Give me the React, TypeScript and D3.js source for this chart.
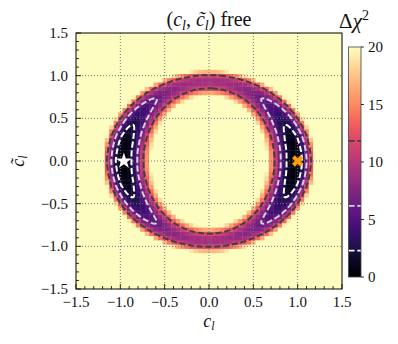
import React, { useMemo } from "react";
import * as d3 from "d3";

// ring profile of the Δχ² surface (angle from the c_l axis, degrees)
const ringAngles = [0, 15, 30, 45, 60, 75, 90];
const ringMin = [0, 0.7, 2.8, 5.3, 7.5, 8.6, 9.0];
const ringInner = [0.655, 0.661, 0.679, 0.705, 0.736, 0.76, 0.77]; // Δχ² = 20 inner edge
const ringOuter = [1.2, 1.19, 1.163, 1.129, 1.098, 1.077, 1.07]; // Δχ² = 20 outer edge

const contourLevels = [2.3, 6.18, 11.83];
const contourColors = ["#ffffff", "#d3d3d3", "#404040"];
const bestFit: [number, number] = [-0.96, 0];
const smPoint: [number, number] = [1, 0];

const axisTicks = [-1.5, -1, -0.5, 0, 0.5, 1, 1.5];
const gridTicks = [-1, -0.5, 0, 0.5, 1];
const cbarTicks = [0, 5, 10, 15, 20];
const vmax = 20;

const W = 398;
const H = 344;
const M = { left: 76, right: 342, top: 33, bottom: 289 };
const CB = { x: 348.5, w: 12.5, top: 47, bottom: 277 };
const font = "'Liberation Serif', 'DejaVu Serif', serif";

const minAt = d3.scaleLinear().domain(ringAngles).range(ringMin).clamp(true);
const innerAt = d3.scaleLinear().domain(ringAngles).range(ringInner).clamp(true);
const outerAt = d3.scaleLinear().domain(ringAngles).range(ringOuter).clamp(true);

function chi2(c: number, ct: number) {
  const r2 = c * c + ct * ct;
  const th = (Math.atan2(Math.abs(ct), Math.abs(c)) * 180) / Math.PI;
  const m = minAt(th);
  const qi = innerAt(th) ** 2;
  const qo = outerAt(th) ** 2;
  const q0 = (qi + qo) / 2;
  const half = (qo - qi) / 2;
  return m + (vmax - m) * ((r2 - q0) / half) ** 2;
}

export default function App() {
  const x = d3.scaleLinear().domain([-1.5, 1.5]).range([M.left, M.right]);
  const y = d3.scaleLinear().domain([-1.5, 1.5]).range([M.bottom, M.top]);
  const cy = d3.scaleLinear().domain([0, vmax]).range([CB.bottom, CB.top]);
  const color = (v: number) => d3.interpolateMagma(Math.min(v, vmax) / vmax);
  const fmt = d3.format(".1f");

  const cells = useMemo(() => {
    const out: { c: number; t: number; v: number }[] = [];
    const step = 0.05;
    for (let i = -30; i <= 30; i++) {
      for (let j = -30; j <= 30; j++) {
        const c = i * step;
        const t = j * step;
        out.push({ c, t, v: chi2(c, t) });
      }
    }
    return out;
  }, []);

  const contourPaths = useMemo(() => {
    const n = 241;
    const step = 3 / (n - 1);
    const vals: number[] = new Array(n * n);
    for (let j = 0; j < n; j++) {
      for (let i = 0; i < n; i++) {
        vals[j * n + i] = -chi2(-1.5 + i * step, -1.5 + j * step);
      }
    }
    const gen = d3.contours().size([n, n]).thresholds(contourLevels.map((l) => -l));
    const proj = d3.geoTransform({
      point(px: number, py: number) {
        this.stream.point(x(-1.5 + (px - 0.5) * step), y(-1.5 + (py - 0.5) * step));
      },
    });
    const path = d3.geoPath(proj);
    return contourLevels.map((l) => path(gen.contour(vals, -l)) || "");
  }, []);

  const cw = x(0.05) - x(0);
  const ch = y(0) - y(0.05);
  const star = d3.symbol(d3.symbolStar, 80)() || "";
  const cross = d3.symbol(d3.symbolCross, 80)() || "";

  const gradStops = d3.range(0, 1.0001, 0.05);

  return (
    <svg width={W} height={H} style={{ position: "absolute", left: 0, top: 0 }}>
      <defs>
        <clipPath id="plot">
          <rect x={M.left} y={M.top} width={M.right - M.left} height={M.bottom - M.top} />
        </clipPath>
        <linearGradient id="cbar" x1="0" y1="1" x2="0" y2="0">
          {gradStops.map((s) => (
            <stop key={s} offset={s} stopColor={d3.interpolateMagma(s)} />
          ))}
        </linearGradient>
      </defs>
      <rect width={W} height={H} fill="#fff" />

      <g clipPath="url(#plot)">
        {cells.map((d, k) => (
          <rect
            key={k}
            x={x(d.c) - cw / 2}
            y={y(d.t) - ch / 2}
            width={cw + 0.4}
            height={ch + 0.4}
            fill={color(d.v)}
          />
        ))}
        {gridTicks.map((t) => (
          <g key={t} stroke="#777" strokeWidth={1} strokeDasharray="1,2">
            <line x1={x(t)} x2={x(t)} y1={M.top} y2={M.bottom} />
            <line x1={M.left} x2={M.right} y1={y(t)} y2={y(t)} />
          </g>
        ))}
        {contourPaths.map((p, i) => (
          <path
            key={i}
            d={p}
            fill="none"
            stroke={contourColors[i]}
            strokeWidth={2}
            strokeDasharray="6,2.8"
          />
        ))}
        <path
          d={star}
          transform={`translate(${x(bestFit[0])},${y(bestFit[1])})`}
          fill="#fff"
        />
        <path
          d={cross}
          transform={`translate(${x(smPoint[0])},${y(smPoint[1])}) rotate(45)`}
          fill="#ff9f0a"
        />
      </g>

      {/* ticks */}
      {d3.range(-15, 16).map((k) => {
        const v = k / 10;
        const major = k % 5 === 0;
        const len = major ? 5 : 3;
        return (
          <g key={k} stroke="#000" strokeWidth={0.8}>
            <line x1={x(v)} x2={x(v)} y1={M.bottom} y2={M.bottom - len} />
            <line x1={M.left} x2={M.left + len} y1={y(v)} y2={y(v)} />
          </g>
        );
      })}
      <rect
        x={M.left}
        y={M.top}
        width={M.right - M.left}
        height={M.bottom - M.top}
        fill="none"
        stroke="#000"
        strokeWidth={1}
      />

      {axisTicks.map((t) => (
        <g key={t} fontFamily={font} fontSize={15} fill="#111">
          <text x={x(t)} y={307} textAnchor="middle">
            {fmt(t)}
          </text>
          <text x={68} y={y(t) + 5} textAnchor="end">
            {fmt(t)}
          </text>
        </g>
      ))}

      <text x={(M.left + M.right) / 2} y={327} textAnchor="middle" fontFamily={font} fontSize={18} fill="#111">
        <tspan fontStyle="italic">c</tspan>
        <tspan fontStyle="italic" fontSize={12} dy={3}>l</tspan>
      </text>
      <text
        transform={`translate(24,${(M.top + M.bottom) / 2}) rotate(-90)`}
        textAnchor="middle"
        fontFamily={font}
        fontSize={18}
        fill="#111"
      >
        <tspan fontStyle="italic">{"c\u0303"}</tspan>
        <tspan fontStyle="italic" fontSize={12} dy={3}>l</tspan>
      </text>

      <text x={209} y={26} textAnchor="middle" fontFamily={font} fontSize={20} fill="#111">
        <tspan>(</tspan>
        <tspan fontStyle="italic">c</tspan>
        <tspan fontStyle="italic" fontSize={14} dy={4}>l</tspan>
        <tspan dy={-4}>, </tspan>
        <tspan fontStyle="italic">{"c\u0303"}</tspan>
        <tspan fontStyle="italic" fontSize={14} dy={4}>l</tspan>
        <tspan dy={-4}>) free</tspan>
      </text>

      {/* colour bar */}
      <rect x={CB.x} y={CB.top} width={CB.w} height={CB.bottom - CB.top} fill="url(#cbar)" />
      {contourLevels.map((l, i) => (
        <line
          key={l}
          x1={CB.x}
          x2={CB.x + CB.w}
          y1={cy(l)}
          y2={cy(l)}
          stroke={contourColors[i]}
          strokeWidth={1.8}
          strokeDasharray="6,2.8"
        />
      ))}
      <rect
        x={CB.x}
        y={CB.top}
        width={CB.w}
        height={CB.bottom - CB.top}
        fill="none"
        stroke="#444"
        strokeWidth={0.8}
      />
      {cbarTicks.map((t) => (
        <g key={t}>
          <line x1={CB.x + CB.w} x2={CB.x + CB.w + 3} y1={cy(t)} y2={cy(t)} stroke="#000" strokeWidth={0.8} />
          <text x={CB.x + CB.w + 7} y={cy(t) + 5} fontFamily={font} fontSize={15} fill="#111">
            {t}
          </text>
        </g>
      ))}
      <text x={354} y={28} textAnchor="middle" fontFamily={font} fontSize={21} fill="#111">
        <tspan>Δ</tspan>
        <tspan fontStyle="italic">χ</tspan>
        <tspan fontSize={14} dy={-8}>2</tspan>
      </text>
    </svg>
  );
}
